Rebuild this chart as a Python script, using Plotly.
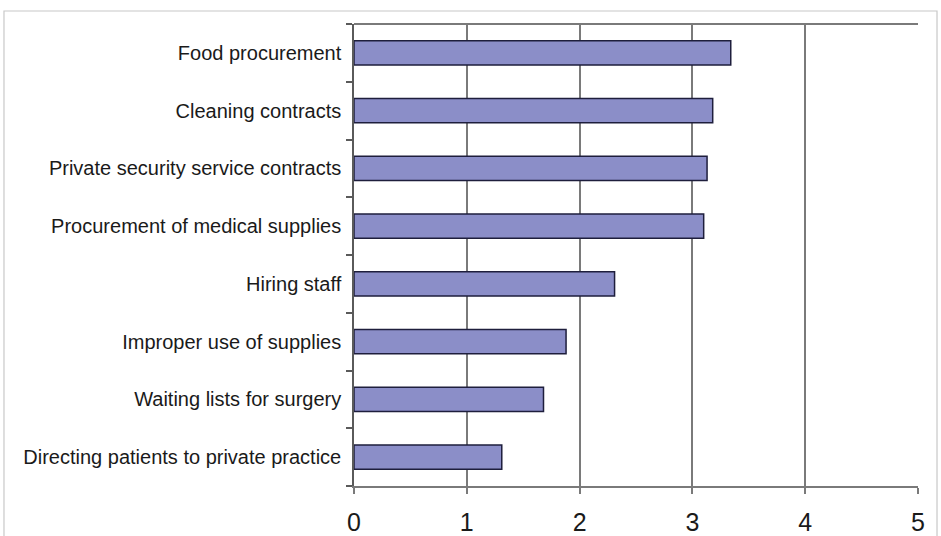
import plotly.graph_objects as go

categories = [
    "Food procurement",
    "Cleaning contracts",
    "Private security service contracts",
    "Procurement of medical supplies",
    "Hiring staff",
    "Improper use of supplies",
    "Waiting lists for surgery",
    "Directing patients to private practice",
]
values = [3.34, 3.18, 3.13, 3.10, 2.31, 1.88, 1.68, 1.31]
x_ticks = [0, 1, 2, 3, 4, 5]

fig = go.Figure()
fig.add_trace(go.Bar(
    x=values,
    y=categories,
    orientation="h",
    width=0.42,
    marker=dict(color="#8b8ec8", line=dict(color="#1e1e3c", width=1.5)),
))

fig.update_layout(
    width=941, height=536,
    margin=dict(l=354, r=23, t=24, b=50),
    paper_bgcolor="white",
    plot_bgcolor="white",
    showlegend=False,
    font=dict(family="Liberation Sans, Arial, sans-serif", color="#1a1a1a"),
    shapes=[
        dict(type="rect", xref="paper", yref="paper",
             x0=-0.6206, x1=1.0337, y0=-0.2, y1=1.0281,
             line=dict(color="#c8c8c8", width=1.2), layer="below"),
        dict(type="line", xref="paper", yref="paper",
             x0=0, x1=1, y0=1, y1=1,
             line=dict(color="#7a7a7a", width=2)),
    ],
)

fig.update_xaxes(
    range=[0, 5],
    tickvals=x_ticks,
    ticktext=[str(v) for v in x_ticks],
    showgrid=True, gridcolor="#7a7a7a", gridwidth=1.5,
    showline=True, linecolor="#7a7a7a", linewidth=1.5,
    ticks="outside", ticklen=6, tickcolor="#7a7a7a", tickwidth=1.5,
    tickfont=dict(size=25, color="#1a1a1a"),
    ticklabelstandoff=7,
    zeroline=False,
    automargin=False,
    fixedrange=True,
)

fig.update_yaxes(
    categoryorder="array",
    categoryarray=categories[::-1],
    showgrid=False,
    showline=True, linecolor="#5a5a5a", linewidth=1.5,
    ticks="outside", ticklen=6, tickcolor="#5a5a5a", tickwidth=1.5,
    tickson="boundaries",
    tickfont=dict(size=20, color="#1a1a1a"),
    ticklabelstandoff=7,
    automargin=False,
    fixedrange=True,
)

fig.write_html(
    "out.html",
    config={"displayModeBar": False},
    post_script="document.body.style.margin='0';document.body.style.overflow='hidden';",
)
